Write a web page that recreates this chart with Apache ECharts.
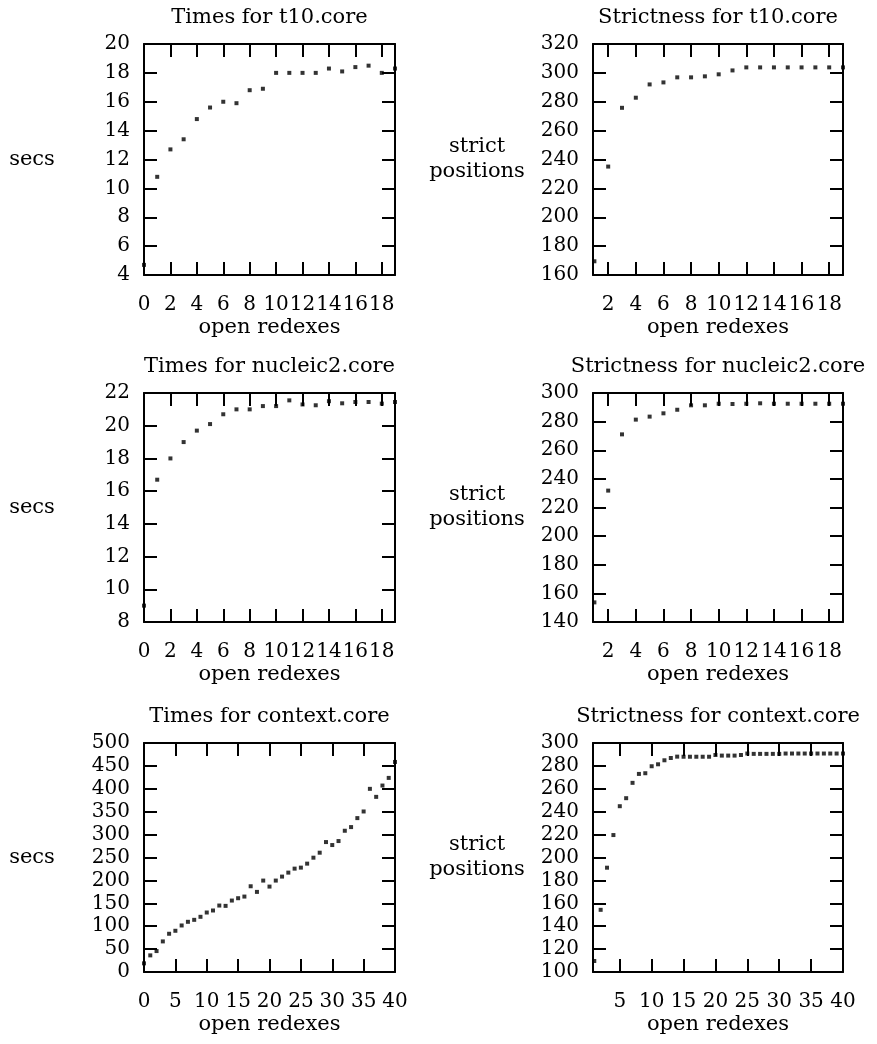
<!DOCTYPE html>
<html><head><meta charset="utf-8">
<script src="https://cdn.jsdelivr.net/npm/echarts@6/dist/echarts.min.js"></script>
<style>html,body{margin:0;padding:0;background:#fff}#c{width:877px;height:1044px}</style>
</head><body><div id="c"></div>
<script>
// ---------- data ----------
const titles = ['Times for t10.core', 'Strictness for t10.core',
                'Times for nucleic2.core', 'Strictness for nucleic2.core',
                'Times for context.core', 'Strictness for context.core'];
const yNames = ['secs', 'strict\npositions', 'secs', 'strict\npositions', 'secs', 'strict\npositions'];
const xName = 'open redexes';

const t10TimesX = [0,1,2,3,4,5,6,7,8,9,10,11,12,13,14,15,16,17,18,19];
const t10Times  = [4.7,10.8,12.7,13.4,14.8,15.6,16.0,15.9,16.8,16.9,18.0,18.0,18.0,18.0,18.3,18.1,18.4,18.5,18.0,18.3];

const t10StrictX = [1,2,3,4,5,6,7,8,9,10,11,12,13,14,15,16,17,18,19];
const t10Strict  = [169.5,235.1,275.8,282.8,292.0,293.4,296.9,296.9,297.6,299.0,301.7,303.8,303.8,303.8,303.8,303.8,303.8,303.8,303.8];

const nucTimesX = [0,1,2,3,4,5,6,7,8,9,10,11,12,13,14,15,16,17,18,19];
const nucTimes  = [9.0,16.7,18.0,19.0,19.7,20.1,20.7,21.0,21.0,21.2,21.2,21.55,21.3,21.25,21.5,21.37,21.45,21.45,21.35,21.45];

const nucStrictX = [1,2,3,4,5,6,7,8,9,10,11,12,13,14,15,16,17,18,19];
const nucStrict  = [153.7,231.8,271.1,281.4,283.5,285.8,288.3,291.4,291.4,292.5,292.3,292.5,292.8,292.5,292.5,292.5,292.5,292.5,292.5];

const ctxTimesX = [0,1,2,3,4,5,6,7,8,9,10,11,12,13,14,15,16,17,18,19,20,21,22,23,24,25,26,27,28,29,30,31,32,33,34,35,36,37,38,39,40];
const ctxTimes  = [18.9,36.3,45.7,66.8,83.5,90.0,101.6,109.6,113.9,120.5,129.9,134.3,145.1,144.4,156.0,161.1,164.7,187.2,174.9,199.6,
                   186.5,199.6,208.3,217.0,225.7,227.9,236.6,249.6,260.5,283.7,277.2,285.9,308.4,316.4,336.0,350.5,399.9,382.4,407.1,423.8,458.6];

const ctxStrictX = [1,2,3,4,5,6,7,8,9,10,11,12,13,14,15,16,17,18,19,20,21,22,23,24,25,26,27,28,29,30,31,32,33,34,35,36,37,38,39,40];
const ctxStrict  = [109.6,154.3,191.1,219.6,244.8,251.8,265.2,273.0,273.6,279.7,281.4,284.9,286.9,288.1,288.0,288.0,288.0,288.0,288.0,289.5,
                    289.0,289.0,289.0,289.5,290.8,290.5,290.5,290.5,290.5,290.5,290.8,290.8,290.8,290.8,290.8,290.8,290.8,290.8,290.8,290.8];

const xTicksA = [0,2,4,6,8,10,12,14,16,18];
const xTicksB = [2,4,6,8,10,12,14,16,18];
const xTicksC = [0,5,10,15,20,25,30,35,40];
const xTicksD = [5,10,15,20,25,30,35,40];

// ---------- layout / config ----------
const FONT = "'DejaVu Serif', serif";
const FS = 21;
const FS_TICK = 20;
const panels = [
  {xs:t10TimesX,  ys:t10Times,  xmin:0,   xmax:19, xt:xTicksA, ymin:4,   ymax:20,  yi:2,  left:144, top:44,  w:251, h:231, gap:112},
  {xs:t10StrictX, ys:t10Strict, xmin:0.9, xmax:19, xt:xTicksB, ymin:160, ymax:320, yi:20, left:593, top:44,  w:250, h:231, gap:116},
  {xs:nucTimesX,  ys:nucTimes,  xmin:0,   xmax:19, xt:xTicksA, ymin:8,   ymax:22,  yi:2,  left:144, top:393, w:251, h:229, gap:112},
  {xs:nucStrictX, ys:nucStrict, xmin:0.9, xmax:19, xt:xTicksB, ymin:140, ymax:300, yi:20, left:593, top:393, w:250, h:229, gap:116},
  {xs:ctxTimesX,  ys:ctxTimes,  xmin:0,   xmax:40, xt:xTicksC, ymin:0,   ymax:500, yi:50, left:144, top:743, w:251, h:229, gap:112},
  {xs:ctxStrictX, ys:ctxStrict, xmin:0.8, xmax:40, xt:xTicksD, ymin:100, ymax:300, yi:20, left:593, top:743, w:250, h:229, gap:116}
];

const lineStyle = {color:'#000', width:2};
const txt = {color:'#000', fontFamily:FONT, fontSize:FS};
const tickTxt = {color:'#000', fontFamily:FONT, fontSize:FS_TICK};
const grids = [], xAxes = [], yAxes = [], series = [], titleArr = [];

panels.forEach((p, i) => {
  grids.push({left:p.left, top:p.top, width:p.w, height:p.h, containLabel:false});
  titleArr.push({text:titles[i], left:p.left + p.w/2, top:p.top - 37, textAlign:'center', padding:0,
                 textStyle:Object.assign({fontWeight:'normal'}, txt)});
  [['bottom', true], ['top', false]].forEach(([pos, show]) => {
    xAxes.push({type:'value', gridIndex:i, position:pos, min:p.xmin, max:p.xmax,
      axisLine:{show:true, onZero:false, lineStyle},
      axisTick:{show:true, inside:true, length:13, lineStyle, customValues:p.xt},
      axisLabel:Object.assign({show:show, margin:20, customValues:p.xt,
        showMinLabel:true, showMaxLabel:true, hideOverlap:false}, tickTxt),
      splitLine:{show:false},
      name: show ? xName : '', nameLocation:'middle', nameGap:53,
      nameTextStyle:Object.assign({verticalAlign:'middle'}, txt)});
  });
  [['left', true], ['right', false]].forEach(([pos, show]) => {
    yAxes.push({type:'value', gridIndex:i, position:pos, min:p.ymin, max:p.ymax, interval:p.yi,
      axisLine:{show:true, onZero:false, lineStyle},
      axisTick:{show:true, inside:true, length:13, lineStyle},
      axisLabel:Object.assign({show:show, margin:14, showMinLabel:true, showMaxLabel:true, hideOverlap:false}, tickTxt),
      splitLine:{show:false},
      name: show ? yNames[i] : '', nameLocation:'middle', nameRotate:0, nameGap:p.gap,
      nameTextStyle:Object.assign({align:'center', verticalAlign:'middle', lineHeight:25}, txt)});
  });
  series.push({type:'scatter', xAxisIndex:2*i, yAxisIndex:2*i, symbol:'rect', symbolSize:4,
    itemStyle:{color:'#000'}, clip:false, silent:true, animation:false,
    data:p.xs.map((x, k) => [x, p.ys[k]])});
});

const chart = echarts.init(document.getElementById('c'), null, {renderer:'canvas'});
chart.setOption({animation:false, backgroundColor:'#fff', title:titleArr, grid:grids, xAxis:xAxes, yAxis:yAxes, series});
</script></body></html>
